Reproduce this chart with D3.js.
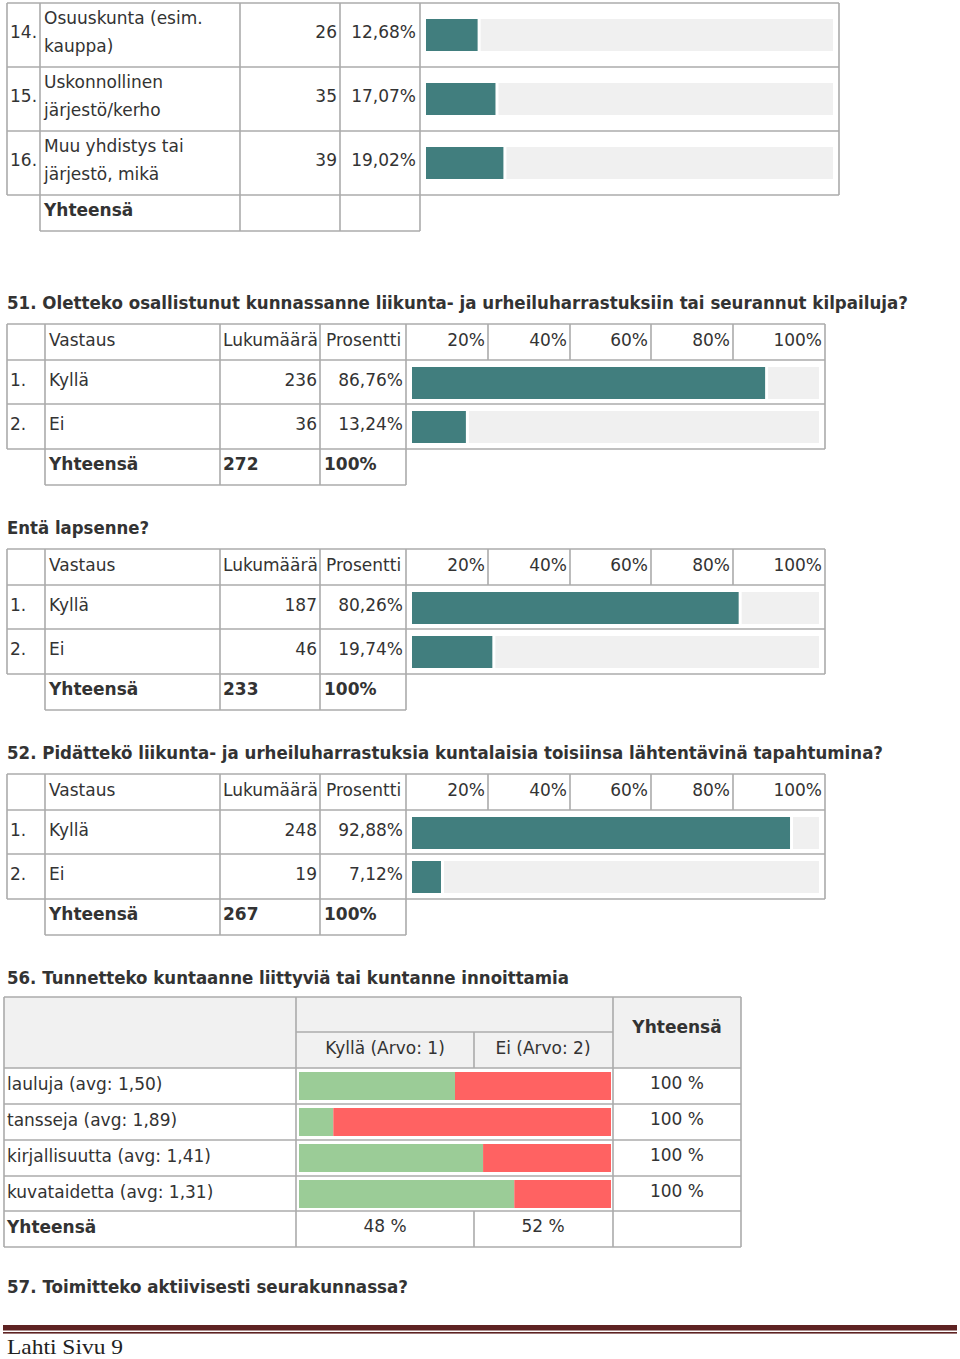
<!DOCTYPE html>
<html><head><meta charset="utf-8">
<script src="https://cdn.jsdelivr.net/npm/d3@7"></script>
<style>
body{margin:0;background:#fff}
svg{display:block}
text{font-family:"DejaVu Sans",Verdana,sans-serif;fill:#333;font-size:17px}
</style>
</head><body><svg id="c" width="960" height="1359"></svg>
<script>
// ---------- data ----------
const topNums = ["14.", "15.", "16."];
const topLabels = [["Osuuskunta (esim.", "kauppa)"], ["Uskonnollinen", "järjestö/kerho"], ["Muu yhdistys tai", "järjestö, mikä"]];
const topCounts = [26, 35, 39];
const topPcts = [12.68, 17.07, 19.02];

const headers = ["Vastaus", "Lukumäärä", "Prosentti"];
const tickLabels = ["20%", "40%", "60%", "80%", "100%"];
const answers = ["Kyllä", "Ei"];
const answerNums = ["1.", "2."];

const q51Counts = [236, 36];
const q51Pcts = [86.76, 13.24];
const q51Total = 272;
const kidsCounts = [187, 46];
const kidsPcts = [80.26, 19.74];
const kidsTotal = 233;
const q52Counts = [248, 19];
const q52Pcts = [92.88, 7.12];
const q52Total = 267;

const q56Items = ["lauluja (avg: 1,50)", "tansseja (avg: 1,89)", "kirjallisuutta (avg: 1,41)", "kuvataidetta (avg: 1,31)"];
const q56Yes = [50, 11, 59, 69];
const q56No = [50, 89, 41, 31];
const q56Cols = ["Kyllä (Arvo: 1)", "Ei (Arvo: 2)"];
const q56ColTotals = ["48 %", "52 %"];
const q56RowTotal = "100 %";

const titles = [
  "51. Oletteko osallistunut kunnassanne liikunta- ja urheiluharrastuksiin tai seurannut kilpailuja?",
  "Entä lapsenne?",
  "52. Pidättekö liikunta- ja urheiluharrastuksia kuntalaisia toisiinsa lähtentävinä tapahtumina?",
  "56. Tunnetteko kuntaanne liittyviä tai kuntanne innoittamia",
  "57. Toimitteko aktiivisesti seurakunnassa?"
];
const footerText = "Lahti Sivu 9";

// ---------- helpers ----------
const svg = d3.select("#c");
const GRID = "#ababab", BAR = "#417e7e", TRACK = "#f0f0f0";
const fi = d3.formatLocale({decimal: ",", thousands: " ", grouping: [3], currency: ["", "€"]});
const pf = v => fi.format(".2f")(v) + "%";

function hline(x1, x2, y, c) {
  svg.append("line").attr("x1", x1).attr("x2", x2).attr("y1", y).attr("y2", y)
    .attr("stroke", c || GRID).attr("stroke-width", 1.6);
}
function vline(x, y1, y2, c) {
  svg.append("line").attr("x1", x).attr("x2", x).attr("y1", y1).attr("y2", y2)
    .attr("stroke", c || GRID).attr("stroke-width", 1.6);
}
function txt(s, x, y, opts) {
  opts = opts || {};
  const t = svg.append("text").attr("x", x).attr("y", y).text(s);
  if (opts.anchor) t.attr("text-anchor", opts.anchor);
  if (opts.bold) t.attr("font-weight", "bold");
  if (opts.size) t.style("font-size", opts.size + "px");
  if (opts.family) t.style("font-family", opts.family);
  if (opts.fill) t.style("fill", opts.fill);
  if (opts.len) t.attr("textLength", opts.len).attr("lengthAdjust", "spacingAndGlyphs");
  return t;
}

// ---------- top (continued) table ----------
{
  const rowTops = [3, 67, 131];
  const x = d3.scaleLinear().domain([0, 100]).range([426, 833]);
  rowTops.forEach((t) => hline(7, 839, t));
  hline(7, 839, 195);
  [7, 40, 240, 340, 420, 839].forEach(c => vline(c, 3, 195));
  hline(40, 420, 231);
  [40, 240, 340, 420].forEach(c => vline(c, 195, 231));
  topPcts.forEach((p, i) => {
    const t = rowTops[i];
    txt(topNums[i], 10, t + 35);
    txt(topLabels[i][0], 44, t + 21);
    txt(topLabels[i][1], 44, t + 49);
    txt(topCounts[i], 337, t + 35, {anchor: "end"});
    txt(pf(p), 416, t + 35, {anchor: "end"});
    svg.append("rect").attr("x", x(p) + 3).attr("y", t + 16).attr("width", x(100) - x(p) - 3).attr("height", 32).attr("fill", TRACK);
    svg.append("rect").attr("x", x(0)).attr("y", t + 16).attr("width", x(p) - x(0)).attr("height", 32).attr("fill", BAR);
  });
  txt("Yhteensä", 44, 216, {bold: true});
}

// ---------- frequency tables ----------
function freqTable(y0, counts, pcts, total) {
  const hH = 36, rowYs = [y0 + 36, y0 + 80, y0 + 125], totH = 36;
  const x = d3.scaleLinear().domain([0, 100]).range([412, 819]);
  const tickEdges = [406, 488, 570, 651, 733, 825];
  [y0, rowYs[0], rowYs[1], rowYs[2]].forEach(y => hline(7, 825, y));
  [7, 45, 220, 320, 406, 825].forEach(c => vline(c, y0, rowYs[2]));
  tickEdges.slice(1, -1).forEach(c => vline(c, y0, y0 + hH));
  hline(45, 406, rowYs[2] + totH);
  [45, 220, 320, 406].forEach(c => vline(c, rowYs[2], rowYs[2] + totH));
  // header
  txt(headers[0], 49, y0 + 22);
  txt(headers[1], 223, y0 + 22);
  txt(headers[2], 326, y0 + 22);
  tickLabels.forEach((l, i) => txt(l, tickEdges[i + 1] - 3, y0 + 22, {anchor: "end"}));
  // rows
  pcts.forEach((p, i) => {
    const t = rowYs[i];
    txt(answerNums[i], 10, t + 26);
    txt(answers[i], 49, t + 26);
    txt(counts[i], 317, t + 26, {anchor: "end"});
    txt(pf(p), 403, t + 26, {anchor: "end"});
    svg.append("rect").attr("x", x(p) + 3).attr("y", t + 7).attr("width", x(100) - x(p) - 3).attr("height", 32).attr("fill", TRACK);
    svg.append("rect").attr("x", x(0)).attr("y", t + 7).attr("width", x(p) - x(0)).attr("height", 32).attr("fill", BAR);
  });
  const tt = rowYs[2];
  txt("Yhteensä", 49, tt + 21, {bold: true});
  txt(total, 223, tt + 21, {bold: true});
  txt("100%", 324, tt + 21, {bold: true});
}

txt(titles[0], 7, 309, {bold: true, len: 901});
freqTable(324, q51Counts, q51Pcts, q51Total);
txt(titles[1], 7, 534, {bold: true, len: 142});
freqTable(549, kidsCounts, kidsPcts, kidsTotal);
txt(titles[2], 7, 759, {bold: true, len: 876});
freqTable(774, q52Counts, q52Pcts, q52Total);

// ---------- matrix 56 ----------
txt(titles[3], 7, 984, {bold: true, len: 562});
{
  const top = 997, hMid = 1032, hBot = 1068;
  const rowTops = [1068, 1104, 1140, 1176];
  const totTop = 1211, bottom = 1247;
  const x = d3.scaleLinear().domain([0, 100]).range([299, 611]);
  svg.append("rect").attr("x", 4).attr("y", top).attr("width", 737).attr("height", hBot - top).attr("fill", "#f1f1f1");
  [top, hBot, 1104, 1140, 1176, totTop, bottom].forEach(y => hline(4, 741, y));
  hline(296, 613, hMid);
  [4, 296, 613, 741].forEach(c => vline(c, top, bottom));
  vline(474, hMid, hBot);
  vline(474, totTop, bottom);
  txt(q56Cols[0], 385, 1054, {anchor: "middle"});
  txt(q56Cols[1], 543, 1054, {anchor: "middle"});
  txt("Yhteensä", 677, 1033, {anchor: "middle", bold: true});
  q56Items.forEach((lab, i) => {
    const t = rowTops[i];
    txt(lab, 7, t + 22);
    svg.append("rect").attr("x", x(0)).attr("y", t + 4).attr("width", x(q56Yes[i]) - x(0)).attr("height", 28).attr("fill", "#9bcc97");
    svg.append("rect").attr("x", x(q56Yes[i])).attr("y", t + 4).attr("width", x(q56Yes[i] + q56No[i]) - x(q56Yes[i])).attr("height", 28).attr("fill", "#ff6262");
    txt(q56RowTotal, 677, t + 21, {anchor: "middle"});
  });
  txt("Yhteensä", 7, totTop + 22, {bold: true});
  txt(q56ColTotals[0], 385, totTop + 21, {anchor: "middle"});
  txt(q56ColTotals[1], 543, totTop + 21, {anchor: "middle"});
}

// ---------- footer ----------
txt(titles[4], 7, 1293, {bold: true, len: 401});
svg.append("rect").attr("x", 3).attr("y", 1325).attr("width", 954).attr("height", 5.5).attr("fill", "#5e2222");
svg.append("rect").attr("x", 3).attr("y", 1332).attr("width", 954).attr("height", 1.6).attr("fill", "#5e2222");
txt(footerText, 7, 1354, {family: "'Liberation Serif',serif", size: 22, fill: "#222", len: 116});
</script>
</body></html>
